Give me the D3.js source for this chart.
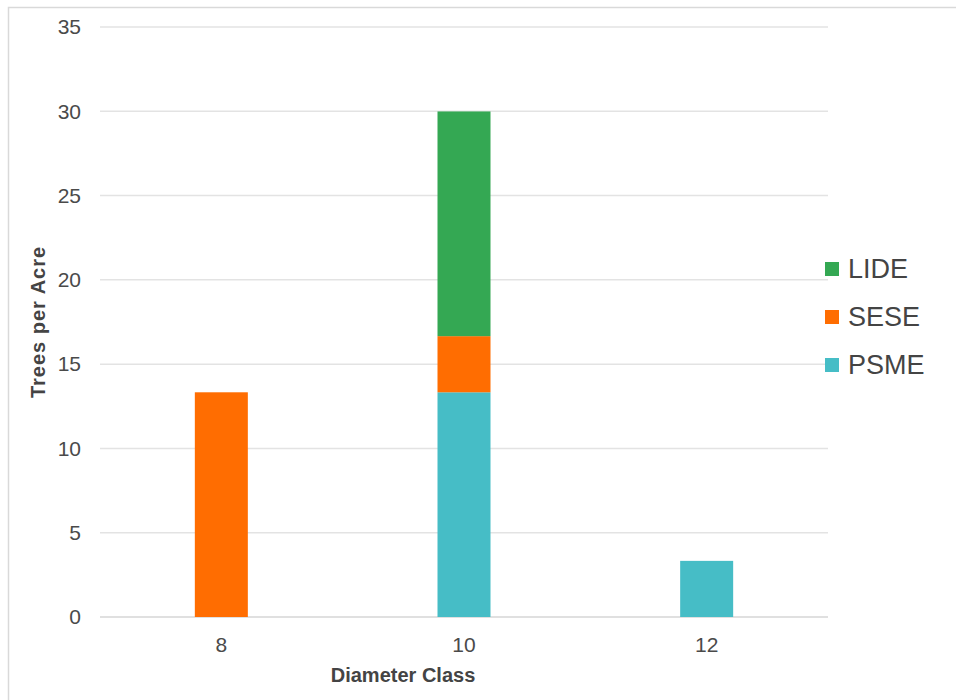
<!DOCTYPE html>
<html><head><meta charset="utf-8">
<script src="https://cdn.jsdelivr.net/npm/d3@7/dist/d3.min.js"></script>
<style>body{margin:0;background:#fff}svg{display:block}text{font-family:"Liberation Sans",Arial,sans-serif}</style>
</head><body>
<svg id="c" width="956" height="700"></svg>
<script>
const categories = ["8", "10", "12"];
const seriesNames = ["PSME", "SESE", "LIDE"];
const PSME = [0, 13.33, 3.33];
const SESE = [13.33, 3.33, 0];
const LIDE = [0, 13.33, 0];
const yTicks = [0, 5, 10, 15, 20, 25, 30, 35];
const colors = {PSME: "#46bdc6", SESE: "#ff6d01", LIDE: "#34a853"};
const legendOrder = ["LIDE", "SESE", "PSME"];

const svg = d3.select("#c");
// frame
svg.append("path").attr("d", "M8.5,700 L8.5,7.5 L956,7.5").attr("fill", "none").attr("stroke", "#d9d9d9").attr("stroke-width", 1.5);

const m = {left: 100, right: 828, top: 27, bottom: 617};
const x = d3.scaleBand().domain(categories).range([m.left, m.right]).paddingInner(0).paddingOuter(0);
const y = d3.scaleLinear().domain([0, 35]).range([m.bottom, m.top]);

const rows = categories.map((c, i) => ({cat: c, PSME: PSME[i], SESE: SESE[i], LIDE: LIDE[i]}));
const stack = d3.stack().keys(seriesNames)(rows);

// grid
svg.append("g").selectAll("line").data(yTicks).join("line")
  .attr("x1", m.left).attr("x2", m.right)
  .attr("y1", d => y(d)).attr("y2", d => y(d))
  .attr("stroke", d => d === 0 ? "#d6d6d6" : "#e3e3e3").attr("stroke-width", 1.5);

// y tick labels
svg.append("g").selectAll("text").data(yTicks).join("text")
  .attr("x", 81).attr("y", d => y(d)).attr("dy", "0.35em")
  .attr("text-anchor", "end").attr("font-size", 21).attr("fill", "#4a4a4a")
  .text(d => d);

// bars
const bw = 53;
svg.append("g").selectAll("g").data(stack).join("g")
  .attr("fill", d => colors[d.key])
  .selectAll("rect").data(d => d.filter(p => p[1] - p[0] > 0)).join("rect")
  .attr("x", d => x(d.data.cat) + x.bandwidth() / 2 - bw / 2)
  .attr("width", bw)
  .attr("y", d => y(d[1]))
  .attr("height", d => y(d[0]) - y(d[1]));

// x tick labels
svg.append("g").selectAll("text").data(categories).join("text")
  .attr("x", d => x(d) + x.bandwidth() / 2).attr("y", 645).attr("dy", "0.35em")
  .attr("text-anchor", "middle").attr("font-size", 21).attr("fill", "#4a4a4a")
  .text(d => d);

// axis titles
svg.append("text").attr("x", 403).attr("y", 675).attr("dy", "0.35em")
  .attr("text-anchor", "middle").attr("font-size", 20).attr("font-weight", "bold").attr("fill", "#444")
  .text("Diameter Class");
svg.append("text").attr("transform", "translate(38,322) rotate(-90)").attr("dy", "0.35em")
  .attr("text-anchor", "middle").attr("font-size", 20).attr("font-weight", "bold").attr("fill", "#444")
  .attr("letter-spacing", 1)
  .text("Trees per Acre");

// legend
const legY = [269, 317, 365];
const lg = svg.append("g").selectAll("g").data(legendOrder).join("g")
  .attr("transform", (d, i) => `translate(825,${legY[i]})`);
lg.append("rect").attr("x", 0).attr("y", -7).attr("width", 14).attr("height", 14).attr("fill", d => colors[d]);
lg.append("text").attr("x", 23).attr("y", 0).attr("dy", "0.35em").attr("font-size", 27).attr("fill", "#444").text(d => d);
</script>
</body></html>
